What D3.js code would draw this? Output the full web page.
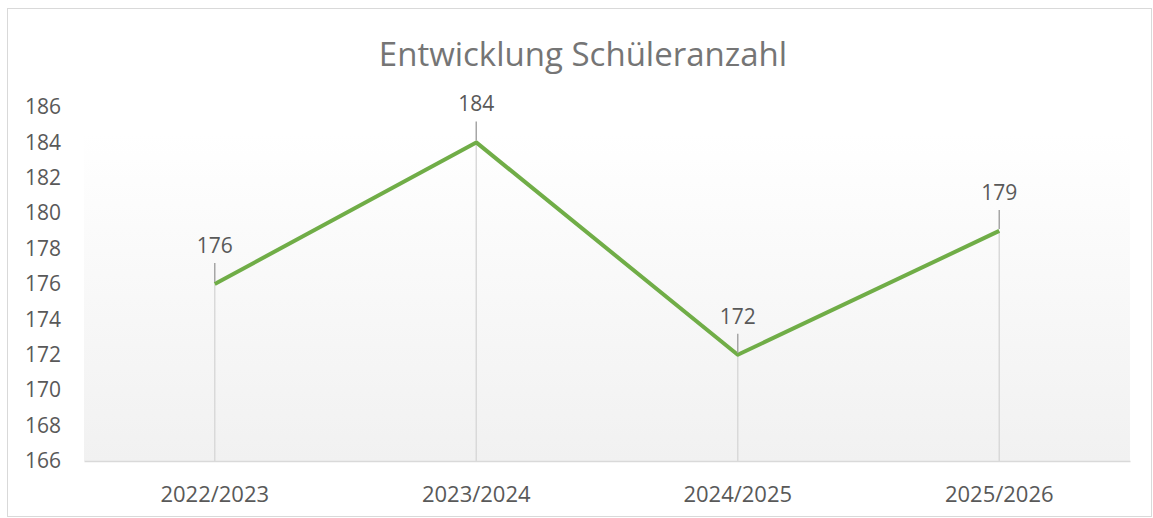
<!DOCTYPE html>
<html>
<head>
<meta charset="utf-8">
<script src="https://cdn.jsdelivr.net/npm/d3@7"></script>
<style>
  body { margin: 0; background: #fff; }
  text { font-family: "Open Sans", "Noto Sans", sans-serif; }
</style>
</head>
<body>
<div id="chart"></div>
<script>
// Data
const years = ["2022/2023", "2023/2024", "2024/2025", "2025/2026"];
const students = [176, 184, 172, 179];
const yTicks = [166, 168, 170, 172, 174, 176, 178, 180, 182, 184, 186];

const W = 1153, H = 518;
const margin = { top: 107, right: 23, bottom: 57, left: 84 };
const width = W - margin.left - margin.right;
const height = H - margin.top - margin.bottom;

const svg = d3.select("#chart").append("svg")
    .attr("width", W)
    .attr("height", H);

// chart border
svg.append("rect")
    .attr("x", 7.5).attr("y", 8.5)
    .attr("width", W - 9).attr("height", H - 10)
    .attr("fill", "#fff")
    .attr("stroke", "#d9d9d9");

const defs = svg.append("defs");
const grad = defs.append("linearGradient")
    .attr("id", "bg").attr("x1", 0).attr("y1", 0).attr("x2", 0).attr("y2", 1);
grad.append("stop").attr("offset", "0%").attr("stop-color", "#ffffff");
grad.append("stop").attr("offset", "100%").attr("stop-color", "#f1f1f1");

// title
svg.append("text")
    .attr("x", 583).attr("y", 66)
    .attr("text-anchor", "middle")
    .attr("font-size", 33)
    .attr("fill", "#757575")
    .text("Entwicklung Schüleranzahl");

const g = svg.append("g").attr("transform", `translate(${margin.left},${margin.top})`);

const x = d3.scaleBand().domain(years).range([0, width]);
const y = d3.scaleLinear().domain([166, 186]).range([height, 0]);

// plot area background
g.append("rect")
    .attr("x", 0).attr("y", y(184.5))
    .attr("width", width).attr("height", height - y(184.5))
    .attr("fill", "url(#bg)");

const cx = d => x(d) + x.bandwidth() / 2;

// y axis labels
const yAxis = g.append("g")
    .call(d3.axisLeft(y).tickValues(yTicks).tickSize(0).tickPadding(23));
yAxis.select(".domain").remove();
yAxis.selectAll(".tick text")
    .attr("font-size", 21)
    .attr("fill", "#595959")
    .attr("font-family", "'Open Sans', sans-serif");

// x axis
const xAxis = g.append("g")
    .attr("transform", `translate(0,${height})`)
    .call(d3.axisBottom(x).tickSize(0).tickPadding(25));
xAxis.select(".domain").attr("stroke", "#d9d9d9").attr("stroke-width", 1.5);
xAxis.selectAll(".tick text")
    .attr("font-size", 22)
    .attr("fill", "#595959")
    .attr("font-family", "'Open Sans', sans-serif");

// drop lines
g.selectAll("line.drop")
    .data(years)
    .enter().append("line")
    .attr("class", "drop")
    .attr("x1", d => cx(d)).attr("x2", d => cx(d))
    .attr("y1", (d, i) => y(students[i]))
    .attr("y2", height)
    .attr("stroke", "#d9d9d9")
    .attr("stroke-width", 1.5);

// line
const line = d3.line()
    .x((d, i) => cx(years[i]))
    .y(d => y(d));
g.append("path")
    .datum(students)
    .attr("d", line)
    .attr("fill", "none")
    .attr("stroke", "#70ad47")
    .attr("stroke-width", 4)
    .attr("stroke-linejoin", "round");

// leader lines
g.selectAll("line.leader")
    .data(years)
    .enter().append("line")
    .attr("class", "leader")
    .attr("x1", d => cx(d)).attr("x2", d => cx(d))
    .attr("y1", (d, i) => y(students[i]) - 21)
    .attr("y2", (d, i) => y(students[i]) - 2)
    .attr("stroke", "#a6a6a6")
    .attr("stroke-width", 1.5);

// data labels
g.selectAll("text.label")
    .data(years)
    .enter().append("text")
    .attr("class", "label")
    .attr("x", d => cx(d))
    .attr("y", (d, i) => y(students[i]) - 31)
    .attr("text-anchor", "middle")
    .attr("font-size", 21)
    .attr("fill", "#595959")
    .text((d, i) => students[i]);
</script>
</body>
</html>
